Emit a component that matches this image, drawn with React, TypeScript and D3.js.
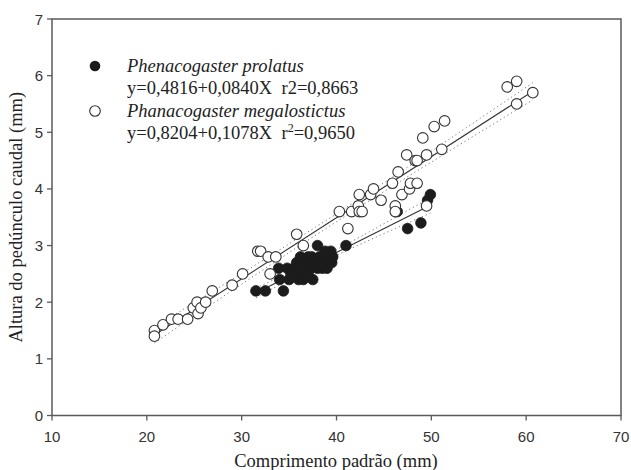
import React from "react";
import * as d3 from "d3";

const openPts: [number, number][] = [
  [20.8, 1.5], [20.8, 1.4], [21.7, 1.6], [22.6, 1.7], [23.3, 1.7], [24.3, 1.7],
  [24.9, 1.9], [25.3, 2.0], [25.4, 1.8], [25.7, 1.9], [26.2, 2.0], [26.9, 2.2],
  [29.0, 2.3], [30.1, 2.5], [31.7, 2.9], [32.0, 2.9], [32.8, 2.8], [33.0, 2.5],
  [33.6, 2.8], [35.8, 3.2], [36.5, 3.0], [40.3, 3.6], [41.2, 3.3], [41.6, 3.6],
  [42.3, 3.7], [42.4, 3.6], [42.4, 3.9], [42.7, 3.6], [43.6, 3.9], [43.9, 4.0],
  [44.7, 3.8], [45.9, 4.1], [46.2, 3.7], [46.2, 3.6], [46.5, 4.3], [46.9, 3.9],
  [47.4, 4.6], [47.7, 4.0], [47.8, 4.1], [48.3, 4.5], [48.5, 4.1], [48.5, 4.5],
  [49.1, 4.9], [49.5, 4.6], [49.5, 3.7], [50.3, 5.1], [51.1, 4.7], [51.4, 5.2],
  [58.0, 5.8], [59.0, 5.9], [59.0, 5.5], [60.7, 5.7],
];

const filledPts: [number, number][] = [
  [31.5, 2.2], [32.5, 2.2], [34.4, 2.2],
  [34.0, 2.4], [35.0, 2.4], [36.0, 2.4], [36.5, 2.4], [37.5, 2.4],
  [33.9, 2.6], [34.8, 2.6], [35.5, 2.6], [35.2, 2.5], [36.0, 2.5], [36.3, 2.6],
  [37.0, 2.5], [37.3, 2.6], [38.0, 2.6], [38.5, 2.6], [39.0, 2.6],
  [35.8, 2.7], [36.5, 2.7], [37.0, 2.7], [37.8, 2.7], [38.6, 2.7], [39.5, 2.7],
  [36.2, 2.8], [37.0, 2.8], [37.4, 2.8], [38.2, 2.8], [39.0, 2.8], [39.6, 2.8],
  [38.8, 2.9], [39.4, 2.9], [38.0, 3.0], [41.0, 3.0],
  [46.4, 3.6], [47.5, 3.3], [48.9, 3.4], [49.6, 3.8], [49.9, 3.9],
];

// regression coefficients (intercept, slope) as plotted
const filledFit = [-0.4816, 0.084];
const openFit = [-0.8204, 0.1078];

const xTicks = [10, 20, 30, 40, 50, 60, 70];
const yTicks = [0, 1, 2, 3, 4, 5, 6, 7];

const W = 631, H = 470;
const x = d3.scaleLinear().domain([10, 70]).range([52, 621]);
const y = d3.scaleLinear().domain([0, 7]).range([415.5, 19]);

function bands(pts: [number, number][], fit: number[]) {
  const n = pts.length;
  const xs = pts.map((p) => p[0]);
  const xbar = d3.mean(xs) as number;
  const sxx = d3.sum(xs, (v) => (v - xbar) ** 2);
  const sse = d3.sum(pts, (p) => (p[1] - (fit[0] + fit[1] * p[0])) ** 2);
  const se = Math.sqrt(sse / (n - 2));
  const t = 2.02;
  const [x0, x1] = d3.extent(xs) as [number, number];
  const grid = d3.range(0, 41).map((i) => x0 + ((x1 - x0) * i) / 40);
  const mid = grid.map((g) => [g, fit[0] + fit[1] * g] as [number, number]);
  const hw = (g: number) => t * se * Math.sqrt(1 / n + (g - xbar) ** 2 / sxx);
  const up = mid.map(([g, v]) => [g, v + hw(g)] as [number, number]);
  const lo = mid.map(([g, v]) => [g, v - hw(g)] as [number, number]);
  return { line: [mid[0], mid[mid.length - 1]], up, lo };
}

const lineGen = d3
  .line<[number, number]>()
  .x((d) => x(d[0]))
  .y((d) => y(d[1]));

export default function App() {
  const fb = bands(filledPts, filledFit);
  const ob = bands(openPts, openFit);
  const axisColor = "#5a5a5a";
  const serif = "'Liberation Serif', 'Times New Roman', serif";
  const sans = "'Liberation Sans', Arial, sans-serif";
  const r = 5.3;
  const fs = 18.5;
  return (
    <svg
      width={W}
      height={H}
      style={{ position: "absolute", left: 0, top: 0, background: "#fff" }}
    >
      <rect
        x={x(10)}
        y={y(7)}
        width={x(70) - x(10)}
        height={y(0) - y(7)}
        fill="none"
        stroke={axisColor}
        strokeWidth={1.5}
      />
      {xTicks.map((t) => (
        <g key={"x" + t}>
          <line x1={x(t)} x2={x(t)} y1={y(0)} y2={y(0) + 5} stroke={axisColor} strokeWidth={1.3} />
          <text x={x(t)} y={442} textAnchor="middle" fontFamily={sans} fontSize={15} fill="#333">
            {t}
          </text>
        </g>
      ))}
      {yTicks.map((t) => (
        <g key={"y" + t}>
          <line x1={x(10) - 5} x2={x(10)} y1={y(t)} y2={y(t)} stroke={axisColor} strokeWidth={1.3} />
          <text x={43} y={y(t) + 5.5} textAnchor="end" fontFamily={sans} fontSize={15} fill="#333">
            {t}
          </text>
        </g>
      ))}
      <text x={336} y={467} textAnchor="middle" fontFamily={serif} fontSize={18.5} fill="#222">
        Comprimento padrão (mm)
      </text>
      <text
        transform={`translate(22,${y(3.5)}) rotate(-90)`}
        textAnchor="middle"
        fontFamily={serif}
        fontSize={18.5}
        fill="#222"
      >
        Altura do pedúnculo caudal (mm)
      </text>

      {[ob, fb].map((b, i) => (
        <g key={"b" + i}>
          <path d={lineGen(b.up) || ""} fill="none" stroke="#777" strokeWidth={1} strokeDasharray="1.2,3" />
          <path d={lineGen(b.lo) || ""} fill="none" stroke="#777" strokeWidth={1} strokeDasharray="1.2,3" />
          <path d={lineGen(b.line as [number, number][]) || ""} fill="none" stroke="#333" strokeWidth={1.1} />
        </g>
      ))}

      {filledPts.map((p, i) => (
        <circle key={"f" + i} cx={x(p[0])} cy={y(p[1])} r={r} fill="#1c1c1c" stroke="#1c1c1c" strokeWidth={0.8} />
      ))}
      {openPts.map((p, i) => (
        <circle key={"o" + i} cx={x(p[0])} cy={y(p[1])} r={r} fill="#fff" stroke="#333" strokeWidth={1.1} />
      ))}

      <circle cx={95} cy={66} r={r} fill="#1c1c1c" />
      <text x={127} y={72} fontFamily={serif} fontSize={fs} fontStyle="italic" fill="#222">
        Phenacogaster prolatus
      </text>
      <text x={127} y={94} fontFamily={serif} fontSize={fs} fill="#222">
        y=0,4816+0,0840X{"\u00a0\u00a0"}r2=0,8663
      </text>
      <circle cx={95} cy={111} r={r} fill="#fff" stroke="#333" strokeWidth={1.1} />
      <text x={127} y={117} fontFamily={serif} fontSize={fs} fontStyle="italic" fill="#222">
        Phanacogaster megalostictus
      </text>
      <text x={127} y={139} fontFamily={serif} fontSize={fs} fill="#222">
        y=0,8204+0,1078X{"\u00a0\u00a0"}r
        <tspan dy={-7} fontSize={12}>2</tspan>
        <tspan dy={7}>=0,9650</tspan>
      </text>
    </svg>
  );
}
